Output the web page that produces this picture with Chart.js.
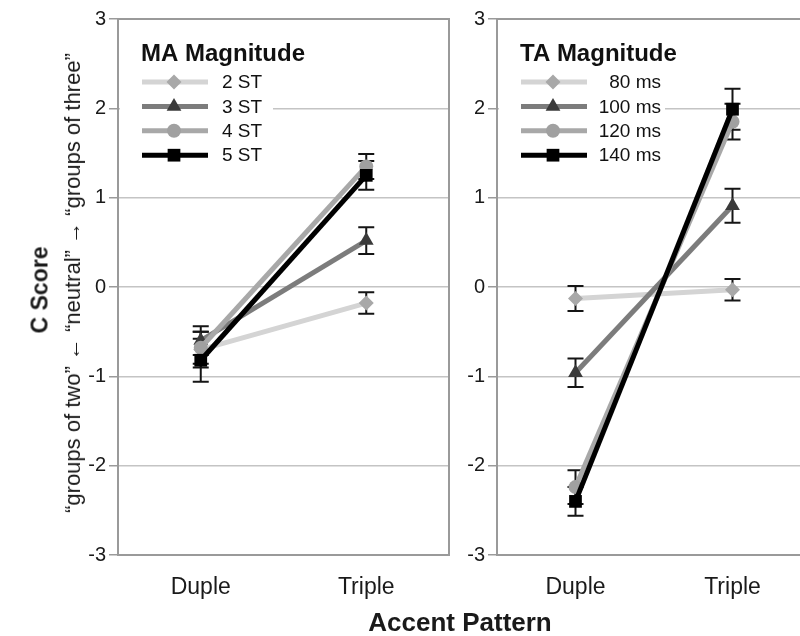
<!DOCTYPE html>
<html>
<head>
<meta charset="utf-8">
<script src="https://cdn.jsdelivr.net/npm/chart.js@4.4.0/dist/chart.umd.min.js"></script>
<style>
    body { margin: 0; width: 800px; height: 636px; overflow: hidden; background: #fff; position: relative;
           font-family: Arial, "Liberation Sans", sans-serif; color: #1a1a1a; }
    #maChart { position: absolute; left: 0; top: 0; }
    #taChart { position: absolute; left: 460px; top: 0; }
    .title { position: absolute; white-space: nowrap; transform: translate(-50%, -50%); }
    .rot { transform: translate(-50%, -50%) rotate(-90deg); }
</style>
</head>
<body>
<canvas id="maChart" width="458" height="636"></canvas>
<canvas id="taChart" width="360" height="636"></canvas>
<div class="title rot" style="left:40px; top:290px; font-weight:bold; font-size:23px;">C Score</div>
<div class="title rot" style="left:73px; top:283px; font-size:22px;">“groups of two” ← “neutral” → “groups of three”</div>
<div class="title" style="left:460px; top:622px; font-weight:bold; font-size:26px;">Accent Pattern</div>

<script>
// categories and tick labels
const categories = ['Duple', 'Triple'];
const yTicks = [-3, -2, -1, 0, 1, 2, 3];

// MA magnitude panel (means and standard errors, Duple/Triple)
const maLabels = ['2 ST', '3 ST', '4 ST', '5 ST'];
const maMeans = [[-0.70, -0.18], [-0.60, 0.52], [-0.68, 1.35], [-0.82, 1.25]];
const maErrors = [[0.20, 0.12], [0.16, 0.15], [0.18, 0.14], [0.24, 0.16]];

// TA magnitude panel
const taLabels = ['80 ms', '100 ms', '120 ms', '140 ms'];
const taMeans = [[-0.13, -0.03], [-0.96, 0.91], [-2.24, 1.85], [-2.40, 1.99]];
const taErrors = [[0.14, 0.12], [0.16, 0.19], [0.19, 0.20], [0.16, 0.23]];

// series styling
const lineColors = ['#d4d4d4', '#7c7c7c', '#a8a8a8', '#000000'];
const markerColors = ['#a8a8a8', '#3a3a3a', '#a0a0a0', '#000000'];
const markerShapes = ['rectRot', 'triangle', 'circle', 'rect'];
const markerSizes = [7.5, 8.5, 7, 9];

const FONT = 'Arial, "Liberation Sans", sans-serif';

// error bars drawn from the y scale of each chart
const errorBarPlugin = {
    id: 'errorBars',
    beforeDatasetsDraw(chart) {
        const ctx = chart.ctx;
        const xs = chart.scales.x, ys = chart.scales.y;
        const errors = chart.options.plugins.errorBars.errors;
        ctx.save();
        ctx.strokeStyle = '#151515';
        ctx.lineWidth = 2;
        chart.data.datasets.forEach((ds, i) => {
            ds.data.forEach((v, j) => {
                const x = xs.getPixelForValue(j);
                const hi = ys.getPixelForValue(v + errors[i][j]);
                const lo = ys.getPixelForValue(v - errors[i][j]);
                ctx.beginPath();
                ctx.moveTo(x, hi); ctx.lineTo(x, lo);
                ctx.moveTo(x - 8, hi); ctx.lineTo(x + 8, hi);
                ctx.moveTo(x - 8, lo); ctx.lineTo(x + 8, lo);
                ctx.stroke();
            });
        });
        ctx.restore();
    }
};

// plot frame and in-plot legend
const framePlugin = {
    id: 'frameLegend',
    beforeDatasetsDraw(chart) {
        const { ctx, chartArea: a } = chart;
        const opts = chart.options.plugins.frameLegend;
        ctx.save();
        // white box behind legend hides the grid lines
        ctx.fillStyle = '#fff';
        ctx.fillRect(a.left + 2, a.top + 10, opts.boxWidth, 140);
        ctx.strokeStyle = '#9a9a9a';
        ctx.lineWidth = 2;
        ctx.strokeRect(a.left, a.top, a.right - a.left, a.bottom - a.top);
        ctx.restore();
    },
    afterDatasetsDraw(chart) {
        const { ctx, chartArea: a } = chart;
        const opts = chart.options.plugins.frameLegend;
        ctx.save();
        ctx.fillStyle = '#111';
        ctx.font = 'bold 24px ' + FONT;
        ctx.textBaseline = 'middle';
        ctx.textAlign = 'left';
        ctx.fillText(opts.title, a.left + 23, 54);
        ctx.font = '19px ' + FONT;
        chart.data.datasets.forEach((ds, i) => {
            const y = 82 + i * 24.4;
            ctx.strokeStyle = lineColors[i];
            ctx.lineWidth = 5;
            ctx.beginPath();
            ctx.moveTo(a.left + 24, y);
            ctx.lineTo(a.left + 90, y);
            ctx.stroke();
            ctx.fillStyle = markerColors[i];
            Chart.helpers.drawPoint(ctx, { pointStyle: markerShapes[i], radius: markerSizes[i], rotation: 0, borderWidth: 0 }, a.left + 56, y);
            ctx.fillStyle = '#111';
            ctx.textAlign = opts.textAlign;
            ctx.fillText(ds.label, a.left + opts.textX, y + 1);
        });
        ctx.restore();
    }
};

function createPanel(canvasId, labels, means, errors, title, yWidth, legend) {
    const ctx = document.getElementById(canvasId).getContext('2d');
    return new Chart(ctx, {
        type: 'line',
        data: {
            labels: categories,
            datasets: labels.map((label, i) => ({
                label: label,
                data: means[i],
                order: 3 - i,
                borderColor: lineColors[i],
                borderWidth: 5,
                pointStyle: markerShapes[i],
                pointRadius: markerSizes[i],
                pointBackgroundColor: markerColors[i],
                pointBorderWidth: 0,
                tension: 0
            }))
        },
        options: {
            responsive: false,
            animation: false,
            layout: { padding: { top: 19, right: 1, left: 0, bottom: 0 } },
            plugins: {
                legend: { display: false },
                tooltip: { enabled: false },
                errorBars: { errors: errors },
                frameLegend: { title: title, boxWidth: legend.boxWidth, textX: legend.textX, textAlign: legend.textAlign }
            },
            scales: {
                x: {
                    type: 'category',
                    offset: true,
                    afterFit(s) { s.height = 81; },
                    grid: { display: false, drawTicks: false },
                    border: { display: false },
                    ticks: { color: '#1a1a1a', font: { size: 23, family: FONT }, padding: 19 }
                },
                y: {
                    min: -3,
                    max: 3,
                    afterFit(s) { s.width = yWidth; },
                    afterBuildTicks(s) { s.ticks = yTicks.map(v => ({ value: v })); },
                    grid: {
                        color: c => (c.tick && Math.abs(c.tick.value) === 3) ? 'rgba(0,0,0,0)' : '#c4c4c4',
                        tickColor: '#9a9a9a',
                        tickLength: 9,
                        lineWidth: 1.5
                    },
                    border: { display: false },
                    ticks: { color: '#1a1a1a', font: { size: 20, family: FONT }, padding: 3 }
                }
            }
        },
        plugins: [errorBarPlugin, framePlugin]
    });
}

createPanel('maChart', maLabels, maMeans, maErrors, 'MA Magnitude', 118, { boxWidth: 153, textX: 104, textAlign: 'left' });
createPanel('taChart', taLabels, taMeans, taErrors, 'TA Magnitude', 37, { boxWidth: 166, textX: 164, textAlign: 'right' });
</script>
</body>
</html>
